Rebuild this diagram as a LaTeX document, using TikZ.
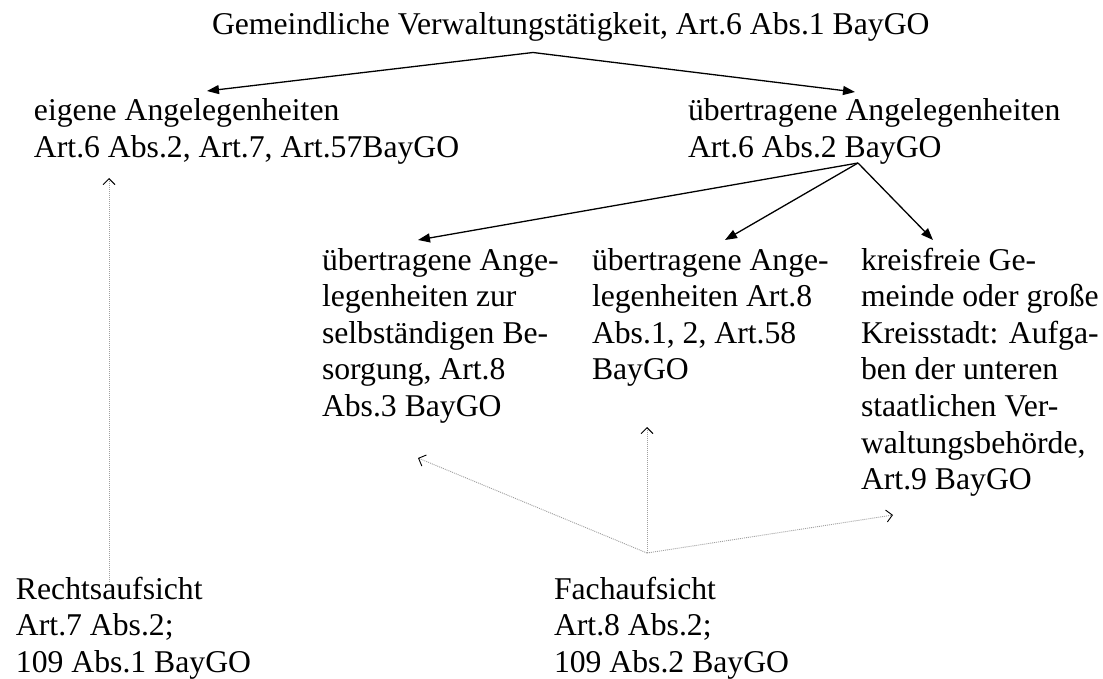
\documentclass[tikz,border=0pt]{standalone}
\usepackage{fontspec}
\setmainfont{Liberation Serif}
\usetikzlibrary{arrows.meta}

% stacked lines, baseline of the whole box = baseline of the first line
\newcommand\txtlines[1]{\vtop{\baselineskip=36.6pt\lineskiplimit=-100pt\halign{##\hfil\cr#1\crcr}}}

\tikzset{
  label text/.style={anchor=base west, inner sep=0pt, outer sep=0pt,
    font=\fontsize{31.7}{36.6}\selectfont},
  branch/.style={line width=1.3pt, -{Triangle[length=12pt,width=9pt]}},
  supervise/.style={line width=0.9pt, gray!75, dash pattern=on 1pt off 1pt,
    -{Straight Barb[length=6pt,width=12pt,line width=0.9pt,color=black]}},
}

\begin{document}
\begin{tikzpicture}[x=1pt,y=-1pt]
\path[use as bounding box] (0,0) rectangle (1103,679);

% text blocks
\node[label text] (gem) at (212,35) {Gemeindliche Verwaltungstätigkeit, Art.6 Abs.1 BayGO};
\node[label text] (eig) at (34,120.5) {\txtlines{eigene Angelegenheiten\cr Art.6 Abs.2, Art.7, Art.57BayGO}};
\node[label text] (ueb) at (688,120.5) {\txtlines{übertragene Angelegenheiten\cr Art.6 Abs.2 BayGO}};
\node[label text] (sel) at (322,270) {\txtlines{übertragene Ange-\cr legenheiten zur\cr selbständigen Be-\cr sorgung, Art.8\cr Abs.3 BayGO}};
\node[label text] (art8) at (592,270) {\txtlines{übertragene Ange-\cr legenheiten Art.8\cr Abs.1, 2, Art.58\cr BayGO}};
\node[label text] (kfr) at (861,270) {\txtlines{kreisfreie Ge-\cr meinde oder große\cr Kreisstadt: Aufga-\cr ben der unteren\cr staatlichen Ver-\cr waltungsbehörde,\cr Art.9 BayGO}};
\node[label text] (ra) at (16,599) {\txtlines{Rechtsaufsicht\cr Art.7 Abs.2;\cr 109 Abs.1 BayGO}};
\node[label text] (fa) at (554,599) {\txtlines{Fachaufsicht\cr Art.8 Abs.2;\cr 109 Abs.2 BayGO}};

% connector end points
\coordinate (gemS) at (533,52.5);
\coordinate (eigN) at (207,91);
\coordinate (uebN) at (855,92);
\coordinate (uebS) at (858,163);
\coordinate (selN) at (418,240);
\coordinate (art8N) at (725,240);
\coordinate (kfrN) at (933,240);
\coordinate (raN) at (109,582);
\coordinate (eigS) at (109,178);
\coordinate (faN) at (647,553);
\coordinate (selS) at (418,458);
\coordinate (art8S) at (647,427);
\coordinate (kfrW) at (893,515);

% solid branches
\draw[branch] (gemS) -- (eigN);
\draw[branch] (gemS) -- (uebN);
\draw[branch] (uebS) -- (selN);
\draw[branch] (uebS) -- (art8N);
\draw[branch] (uebS) -- (kfrN);

% dotted supervision arrows
\draw[supervise] (raN) -- (eigS);
\draw[supervise] (faN) -- (selS);
\draw[supervise] (faN) -- (art8S);
\draw[supervise] (faN) -- (kfrW);
\end{tikzpicture}
\end{document}
